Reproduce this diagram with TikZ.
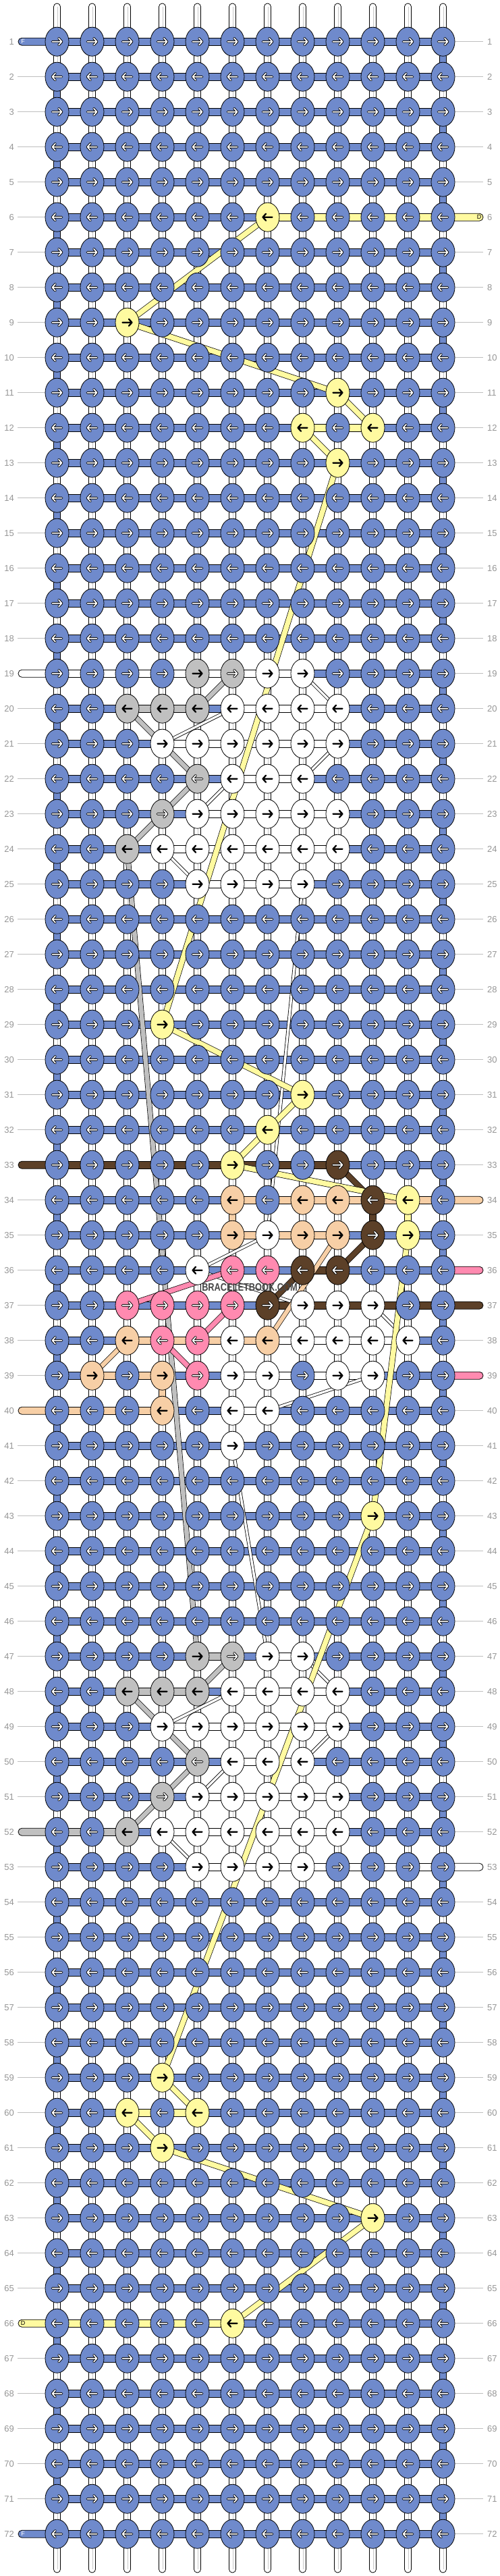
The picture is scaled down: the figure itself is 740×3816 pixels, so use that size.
\documentclass[tikz,border=0pt]{standalone}
\usepackage{fontspec}
\setmainfont{Liberation Sans}
\usetikzlibrary{shapes.geometric}
\definecolor{cB}{RGB}{111,138,204}
\definecolor{cY}{RGB}{255,250,160}
\definecolor{cG}{RGB}{192,192,192}
\definecolor{cW}{RGB}{255,255,255}
\definecolor{cBr}{RGB}{92,64,40}
\definecolor{cPe}{RGB}{247,207,166}
\definecolor{cPk}{RGB}{255,138,176}
\definecolor{labc}{RGB}{150,150,150}
\definecolor{labline}{RGB}{190,190,190}
\definecolor{strc}{RGB}{200,200,200}
\newif\ifwarr
\newcommand\setKnot[3]{\foreach \kk in {#2}{\expandafter\xdef\csname kc-#1-\kk\endcsname{#3}}}
\newcommand\setHseg[3]{\foreach \kk in {#2}{\expandafter\xdef\csname hs-#1-\kk\endcsname{#3}}}
\newcommand\setVseg[3]{\foreach \kk in {#2}{\expandafter\xdef\csname vs-#1-\kk\endcsname{#3}}}
\newcommand\strand[5]{\draw[line width=#2pt,black] (k-#4) -- (k-#5); \draw[line width=#3pt,#1] (k-#4) -- (k-#5);}
% knots
\setKnot{6}{7}{cY}
\setKnot{9}{3}{cY}
\setKnot{11}{9}{cY}
\setKnot{12}{8,10}{cY}
\setKnot{13}{9}{cY}
\setKnot{19}{5,6}{cG}\setKnot{19}{7,8}{cW}
\setKnot{20}{3,4,5}{cG}\setKnot{20}{6,7,8,9}{cW}
\setKnot{21}{4,5,6,7,8,9}{cW}
\setKnot{22}{5}{cG}\setKnot{22}{6,7,8}{cW}
\setKnot{23}{4}{cG}\setKnot{23}{5,6,7,8,9}{cW}
\setKnot{24}{3}{cG}\setKnot{24}{4,5,6,7,8,9}{cW}
\setKnot{25}{5,6,7,8}{cW}
\setKnot{29}{4}{cY}
\setKnot{31}{8}{cY}
\setKnot{32}{7}{cY}
\setKnot{33}{6}{cY}\setKnot{33}{9}{cBr}
\setKnot{34}{6,8,9}{cPe}\setKnot{34}{10}{cBr}\setKnot{34}{11}{cY}
\setKnot{35}{6,8,9}{cPe}\setKnot{35}{7}{cW}\setKnot{35}{10}{cBr}\setKnot{35}{11}{cY}
\setKnot{36}{5}{cW}\setKnot{36}{6,7}{cPk}\setKnot{36}{8,9}{cBr}
\setKnot{37}{3,4,5,6}{cPk}\setKnot{37}{7}{cBr}\setKnot{37}{8,9,10}{cW}
\setKnot{38}{3,7}{cPe}\setKnot{38}{4,5}{cPk}\setKnot{38}{6,8,9,10,11}{cW}
\setKnot{39}{2,4}{cPe}\setKnot{39}{5}{cPk}\setKnot{39}{6,7,9,10}{cW}
\setKnot{40}{4}{cPe}\setKnot{40}{6,7}{cW}
\setKnot{41}{6}{cW}
\setKnot{43}{10}{cY}
\setKnot{47}{5,6}{cG}\setKnot{47}{7,8}{cW}
\setKnot{48}{3,4,5}{cG}\setKnot{48}{6,7,8,9}{cW}
\setKnot{49}{4,5,6,7,8,9}{cW}
\setKnot{50}{5}{cG}\setKnot{50}{6,7,8}{cW}
\setKnot{51}{4}{cG}\setKnot{51}{5,6,7,8,9}{cW}
\setKnot{52}{3}{cG}\setKnot{52}{4,5,6,7,8,9}{cW}
\setKnot{53}{5,6,7,8}{cW}
\setKnot{59}{4}{cY}
\setKnot{60}{3,5}{cY}
\setKnot{61}{4}{cY}
\setKnot{63}{10}{cY}
\setKnot{66}{6}{cY}
% horizontal segments (c = between c and c+1)
\setHseg{6}{7,8,9,10,11}{cY}
\setHseg{12}{8,9}{cY}
\setHseg{19}{1,2,3,4,5,6,7}{cW}
\setHseg{20}{3,4}{cG}\setHseg{20}{6,7,8}{cW}
\setHseg{21}{4,5,6,7,8}{cW}
\setHseg{22}{6,7}{cW}
\setHseg{23}{5,6,7,8}{cW}
\setHseg{24}{4,5,6,7,8}{cW}
\setHseg{25}{5,6,7}{cW}
\setHseg{33}{1,2,3,4,5,6,7,8}{cBr}
\setHseg{34}{6,7,8,9,10,11}{cPe}
\setHseg{35}{6,7,8}{cPe}
\setHseg{36}{8}{cBr}
\setHseg{37}{7,8,9,10,11}{cBr}
\setHseg{38}{3,4,5,6}{cPe}\setHseg{38}{7,8,9,10}{cW}
\setHseg{39}{2,3}{cPe}\setHseg{39}{6,7,8,9}{cW}
\setHseg{40}{1,2,3}{cPe}\setHseg{40}{6}{cW}
\setHseg{47}{5}{cG}\setHseg{47}{7}{cW}
\setHseg{48}{3,4}{cG}\setHseg{48}{6,7,8}{cW}
\setHseg{49}{4,5,6,7,8}{cW}
\setHseg{50}{6,7}{cW}
\setHseg{51}{5,6,7,8}{cW}
\setHseg{52}{1,2}{cG}\setHseg{52}{4,5,6,7,8}{cW}
\setHseg{53}{5,6,7,8,9,10,11}{cW}
\setHseg{60}{3,4}{cY}
\setHseg{66}{1,2,3,4,5}{cY}
% vertical overrides (between r and r+1)
\setVseg{34}{6}{cPe}\setVseg{34}{10}{cBr}\setVseg{34}{11}{cY}\setVseg{39}{4}{cPe}
% white-arrow colours and special knots
\expandafter\def\csname aw-cB\endcsname{}
\expandafter\def\csname aw-cBr\endcsname{}
\expandafter\def\csname aw-cPk\endcsname{}
\foreach \p in {19-6,22-5,23-4,47-6,50-5,51-4}{\expandafter\xdef\csname wa-\p\endcsname{1}}
\foreach \p in {1,19,33,40,52,66,72}{\expandafter\xdef\csname lp-\p\endcsname{1}}
\foreach \p in {6,34,36,37,39,53}{\expandafter\xdef\csname rp-\p\endcsname{1}}
\tikzset{
  knot/.style={ellipse, draw=black, line width=0.8pt, minimum width=35pt, minimum height=43pt, inner sep=0pt},
  lbl/.style={font=\fontsize{13}{13}\selectfont, text=labc, inner sep=0pt},
  strline/.style={draw=strc, line width=0.8pt},
  pics/warr/.style={code={
    \draw[black,line width=3.6pt,line cap=round,line join=round] (-7,0)--(7,0) (2.5,-5)--(7,0)--(2.5,5);
    \draw[white,line width=1.7pt,line cap=round,line join=round] (-7,0)--(7,0) (2.5,-5)--(7,0)--(2.5,5);}},
  pics/barr/.style={code={
    \draw[black,line width=2.3pt,line cap=round,line join=round] (-7,0)--(7,0) (2.5,-5)--(7,0)--(2.5,5);}}
}
\begin{document}
\begin{tikzpicture}[x=1pt,y=-1pt]
\useasboundingbox[fill=white] (0,0) rectangle (740,3816);
% coordinates of knots
\foreach \rw in {1,...,72}{\foreach \cl in {1,...,12}{
  \pgfmathsetmacro\xx{32.5+52*\cl}\pgfmathsetmacro\yy{9.7+52*\rw}
  \coordinate (k-\rw-\cl) at (\xx,\yy);}}
% top and bottom string ends
\foreach \cl in {1,...,12}{
  \pgfmathsetmacro\xx{32.5+52*\cl}
  \filldraw[fill=white,line width=0.8pt,rounded corners=4.9pt] (\xx-5,62) -- (\xx-5,5) -- (\xx+5,5) -- (\xx+5,62);
  \draw[strline] (\xx+1,10) -- (\xx+1,62);
  \filldraw[fill=white,line width=0.8pt,rounded corners=4.9pt] (\xx-5,3753) -- (\xx-5,3811) -- (\xx+5,3811) -- (\xx+5,3753);
  \draw[strline] (\xx+1,3753) -- (\xx+1,3806);
}
% vertical segments
\foreach \rw in {1,...,71}{
  \pgfmathtruncatemacro\rn{\rw+1}
  \foreach \cl in {1,...,12}{
    \def\vcol{cW}%
    \ifodd\rw\relax \ifnum\cl=12 \def\vcol{cB}\fi \else \ifnum\cl=1 \def\vcol{cB}\fi\fi
    \ifcsname vs-\rw-\cl\endcsname\edef\vcol{\csname vs-\rw-\cl\endcsname}\fi
    \fill[\vcol] ([xshift=-5pt]k-\rw-\cl) rectangle ([xshift=5pt]k-\rn-\cl);
    \draw[line width=0.8pt] ([xshift=-5pt]k-\rw-\cl) -- ([xshift=-5pt]k-\rn-\cl) ([xshift=5pt]k-\rw-\cl) -- ([xshift=5pt]k-\rn-\cl);
    \def\tst{cW}\ifx\vcol\tst \draw[strline] ([xshift=1pt]k-\rw-\cl) -- ([xshift=1pt]k-\rn-\cl);\fi
  }}
% horizontal segments
\foreach \rw in {1,...,72}{
  \foreach \cl in {1,...,11}{
    \pgfmathtruncatemacro\cn{\cl+1}
    \def\hcol{cB}\ifcsname hs-\rw-\cl\endcsname\edef\hcol{\csname hs-\rw-\cl\endcsname}\fi
    \filldraw[fill=\hcol,line width=0.8pt] ([yshift=5.5pt]k-\rw-\cl) rectangle ([yshift=-5.5pt]k-\rw-\cn);
  }}
% edge pills
\foreach \rw/\col in {1/cB,19/cW,33/cBr,40/cPe,52/cG,66/cY,72/cB}{
  \pgfmathsetmacro\yy{9.7+52*\rw}
  \filldraw[fill=\col,line width=0.8pt,rounded corners=5.4pt] (84.5,\yy-5.5) -- (27,\yy-5.5) -- (27,\yy+5.5) -- (84.5,\yy+5.5);
}
\foreach \rw/\col in {6/cY,34/cPe,36/cPk,37/cBr,39/cPk,53/cW}{
  \pgfmathsetmacro\yy{9.7+52*\rw}
  \filldraw[fill=\col,line width=0.8pt,rounded corners=5.4pt] (656.5,\yy-5.5) -- (716,\yy-5.5) -- (716,\yy+5.5) -- (656.5,\yy+5.5);
}
\node[font=\fontsize{9}{9}\selectfont,text=white,inner sep=0pt] (pf1) at (34,61.7) {F};
\node[font=\fontsize{9}{9}\selectfont,text=white,inner sep=0pt] (pf72) at (34,3753.7) {F};
\node[font=\fontsize{9}{9}\selectfont,text=black,inner sep=0pt] (pd6) at (710,321.7) {D};
\node[font=\fontsize{9}{9}\selectfont,text=black,inner sep=0pt] (pd66) at (34,3441.7) {D};
% row labels
\foreach \rw in {1,...,72}{
  \pgfmathsetmacro\yy{9.7+52*\rw}
  \ifcsname lp-\rw\endcsname\else\draw[labline,line width=0.9pt] (26,\yy) -- (67,\yy);\fi
  \ifcsname rp-\rw\endcsname\else\draw[labline,line width=0.9pt] (674,\yy) -- (716,\yy);\fi
  \node[lbl,anchor=east] (ll\rw) at (21,\yy) {\rw};
  \node[lbl,anchor=west] (lr\rw) at (722,\yy) {\rw};
}
% travelling strands
\strand{cG}{8}{6.6}{24-3}{47-5}
\foreach \a/\b in {19-6/20-5,20-3/21-4,21-4/22-5,22-5/23-4,23-4/24-3,47-6/48-5,48-3/49-4,49-4/50-5,50-5/51-4,51-4/52-3}{\strand{cG}{8}{6.6}{\a}{\b}}
\foreach \a/\b in {20-6/21-4,19-8/20-9,22-8/21-9,23-5/22-6,24-4/25-5,25-8/35-7,36-5/35-7,36-5/37-8,37-10/38-11,40-7/39-10,41-6/47-7,49-4/48-6,47-8/48-9,49-9/50-8,50-6/51-5,52-4/53-5}{\strand{white}{5}{3.4}{\a}{\b}}
\foreach \a/\b in {35-9/38-7,38-3/39-2}{\strand{cPe}{7.5}{6.1}{\a}{\b}}
\foreach \a/\b in {36-6/37-3,37-6/38-5,38-4/39-5}{\strand{cPk}{8.5}{7.1}{\a}{\b}}
\foreach \a/\b in {33-9/34-10,35-10/36-9,36-8/37-7}{\strand{cBr}{9}{7.6}{\a}{\b}}
\foreach \a/\b in {6-7/9-3,9-3/11-9,11-9/12-10,12-8/13-9,13-9/29-4,29-4/31-8,31-8/32-7,32-7/33-6,33-6/34-11,35-11/43-10,43-10/59-4,59-4/60-5,60-3/61-4,61-4/63-10,63-10/66-6}{\strand{cY}{9}{7.6}{\a}{\b}}
% knots
\foreach \rw in {1,...,72}{
  \ifodd\rw\relax\def\dd{1}\else\def\dd{-1}\fi
  \foreach \cl in {1,...,12}{
    \def\kcol{cB}\ifcsname kc-\rw-\cl\endcsname\edef\kcol{\csname kc-\rw-\cl\endcsname}\fi
    \node[knot,fill=\kcol] (n-\rw-\cl) at (k-\rw-\cl) {};
    \warrfalse
    \ifcsname aw-\kcol\endcsname\warrtrue\fi
    \ifcsname wa-\rw-\cl\endcsname\warrtrue\fi
    \ifwarr\pic[xscale=\dd] at (k-\rw-\cl) {warr};\else\pic[xscale=\dd] at (k-\rw-\cl) {barr};\fi
  }}
% watermark
\node[font=\bfseries\fontsize{16}{16}\selectfont,text=black!72,inner sep=0pt] (wm) at (370,1907) {\scalebox{0.8}[1]{BRACELETBOOK.COM}};
\end{tikzpicture}
\end{document}
